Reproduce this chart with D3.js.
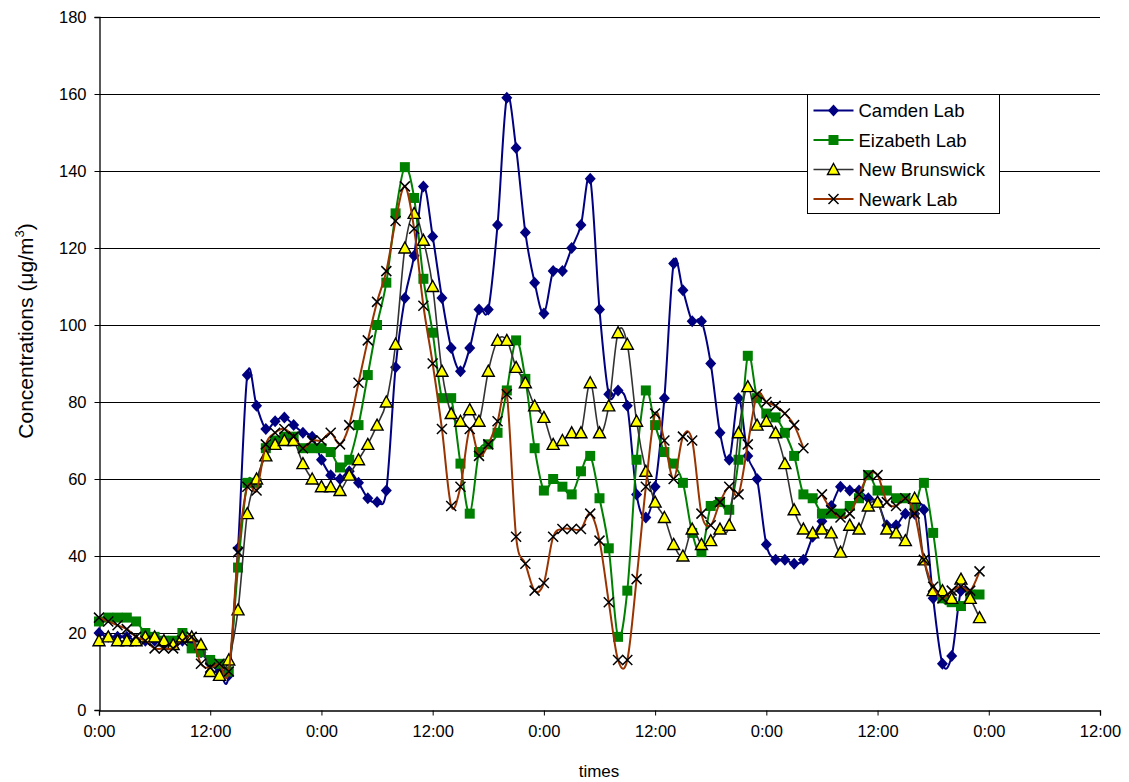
<!DOCTYPE html>
<html>
<head>
<meta charset="utf-8">
<script src="https://cdn.jsdelivr.net/npm/d3@7"></script>
<style>
  body { margin: 0; background: #fff; }
  svg { display: block; font-family: "Liberation Sans", Arial, sans-serif; }
</style>
</head>
<body>
<svg id="chart" width="1129" height="782"></svg>
<script>
// ---------- data (hourly readings, hour 0 = first 0:00) ----------
const seriesNames = ["Camden Lab", "Eizabeth Lab", "New Brunswick", "Newark Lab"];

const camden = [20,19,19,19,18,18,18,17,17,18,17,15,12,10,9,
  42,87,79,73,75,76,74,72,71,65,61,60,62,59,55,54,57,89,107,118,136,123,107,94,88,94,
  104,104,126,159,146,124,111,103,114,114,120,126,138,104,82,83,79,56,50,58,81,116,109,
  101,101,90,72,65,81,66,60,43,39,39,38,39,45,49,53,58,57,57,55,54,48,48,51,51,52,29,12,14,31,30];

const elizabeth = [23,24,24,24,23,20,19,18,18,20,16,15,13,12,10,
  37,59,59,68,70,71,71,68,68,68,67,63,65,74,87,100,111,129,141,133,112,98,81,81,64,51,
  67,69,72,83,96,86,68,57,60,58,56,62,66,55,42,19,31,65,83,74,67,64,59,46,41,53,54,52,
  65,92,81,77,76,72,66,56,55,51,51,51,53,55,61,57,57,55,55,53,59,46,29,28,27,30,30];

const newBrunswick = [18,19,18,18,18,19,19,18,17,19,19,17,10,9,13,
  26,51,60,66,69,70,70,64,60,58,58,57,61,65,69,74,80,95,120,129,122,110,88,77,75,78,
  75,88,96,96,89,85,79,76,69,70,72,72,85,72,79,98,95,75,62,54,50,43,40,47,43,44,47,48,
  72,84,74,75,72,64,52,47,46,47,46,41,48,47,53,54,47,46,44,55,39,31,31,29,34,29,24];

const newark = [24,23,22,21,19,18,16,16,16,18,19,12,11,12,10,
  41,58,57,69,72,73,71,68,70,70,72,69,74,85,96,106,114,127,136,125,105,90,73,53,58,73,
  66,69,75,82,45,38,31,33,45,47,47,47,51,44,28,13,13,34,58,77,70,60,71,70,51,48,54,58,
  56,69,82,80,79,77,74,68,null,56,52,50,51,56,61,61,54,53,55,51,39,32,29,31,32,31,36];

const xTickHours = [0,12,24,36,48,60,72,84,96,108];
const xTickLabels = ["0:00","12:00","0:00","12:00","0:00","12:00","0:00","12:00","0:00","12:00"];
const yTicks = [0,20,40,60,80,100,120,140,160,180];

// ---------- layout ----------
const svg = d3.select("#chart");
const plotLeft = 99, plotRight = 1100, plotTop = 17, plotBottom = 710;

const x = d3.scaleLinear().domain([0,108]).range([plotLeft,plotRight]);
const y = d3.scaleLinear().domain([0,180]).range([plotBottom,plotTop]);

// gridlines
svg.append("g").selectAll("line").data(yTicks.filter(d => d > 0)).join("line")
  .attr("x1", plotLeft).attr("x2", plotRight)
  .attr("y1", d => Math.round(y(d)) + 0.5).attr("y2", d => Math.round(y(d)) + 0.5)
  .attr("stroke", "#000").attr("stroke-width", 1);

// axes
const yAxis = d3.axisLeft(y).tickValues(yTicks).tickSize(5).tickPadding(8);
const gy = svg.append("g").attr("transform", `translate(${plotLeft + 0.5},0)`).call(yAxis);
const xAxis = d3.axisBottom(x).tickValues(xTickHours).tickSize(5).tickPadding(10)
  .tickFormat((d,i) => xTickLabels[i]);
const gx = svg.append("g").attr("transform", `translate(0,${plotBottom + 0.5})`).call(xAxis);
[gx, gy].forEach(g => {
  g.select(".domain").attr("stroke", "#000").attr("stroke-width", 1.3);
  g.selectAll(".tick line").attr("stroke", "#000");
  g.selectAll("text").attr("font-size", 16.5).attr("fill", "#000")
    .attr("font-family", "'Liberation Sans', Arial, sans-serif");
});

// axis titles
svg.append("text").attr("x", 599).attr("y", 777).attr("text-anchor", "middle")
  .attr("font-size", 17).text("times");
const yt = svg.append("text")
  .attr("transform", "translate(33,331) rotate(-90)")
  .attr("text-anchor", "middle").attr("font-size", 21);
yt.append("tspan").text("Concentrations (\u03bcg/m");
yt.append("tspan").attr("font-size", 13).attr("dy", -9).text("3");
yt.append("tspan").attr("dy", 9).text(")");

// ---------- series ----------
const markers = {
  diamond: "M0,-6L5.5,0L0,6L-5.5,0Z",
  square: "M-5,-5H5V5H-5Z",
  triangle: "M0,-6L6,5H-6Z",
  cross: "M-5,-5L5,5M-5,5L5,-5"
};
const styles = [
  {data: camden, line: "#000080", lw: 2, marker: "diamond", fill: "#000080", stroke: "none", sw: 0},
  {data: elizabeth, line: "#008000", lw: 2, marker: "square", fill: "#008000", stroke: "none", sw: 0},
  {data: newBrunswick, line: "#333333", lw: 1.6, marker: "triangle", fill: "#ffff00", stroke: "#000", sw: 1.4},
  {data: newark, line: "#993300", lw: 2, marker: "cross", fill: "none", stroke: "#000", sw: 1.5}
];

const line = d3.line()
  .defined(d => d.v != null)
  .x(d => x(d.h)).y(d => y(d.v))
  .curve(d3.curveCardinal.tension(0));

styles.forEach(s => {
  const pts = s.data.map((v,h) => ({h, v}));
  const g = svg.append("g");
  g.append("path").datum(pts).attr("d", line)
    .attr("fill", "none").attr("stroke", s.line).attr("stroke-width", s.lw);
  g.selectAll("path.m").data(pts.filter(d => d.v != null)).join("path")
    .attr("class", "m")
    .attr("transform", d => `translate(${x(d.h)},${y(d.v)})`)
    .attr("d", markers[s.marker])
    .attr("fill", s.fill).attr("stroke", s.stroke).attr("stroke-width", s.sw);
});

// ---------- legend ----------
const lg = svg.append("g").attr("transform", "translate(807.5,94.5)");
lg.append("rect").attr("width", 192).attr("height", 119)
  .attr("fill", "#fff").attr("stroke", "#000").attr("stroke-width", 1);
styles.forEach((s, i) => {
  const yy = 16 + i * 29.5;
  lg.append("line").attr("x1", 6).attr("x2", 46).attr("y1", yy).attr("y2", yy)
    .attr("stroke", s.line).attr("stroke-width", s.lw);
  lg.append("path").attr("transform", `translate(26,${yy})`).attr("d", markers[s.marker])
    .attr("fill", s.fill).attr("stroke", s.stroke).attr("stroke-width", s.sw);
  lg.append("text").attr("x", 51).attr("y", yy + 6.5).attr("font-size", 18.5)
    .text(seriesNames[i]);
});
</script>
</body>
</html>
